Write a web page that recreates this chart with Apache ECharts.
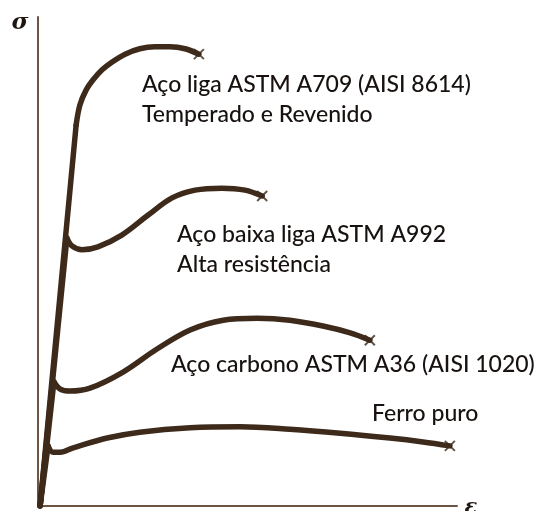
<!DOCTYPE html>
<html><head><meta charset="utf-8">
<script src="https://cdn.jsdelivr.net/npm/echarts@6/dist/echarts.min.js"></script>
<style>html,body{margin:0;padding:0;background:#fff}#c{width:535px;height:511px}</style>
</head><body><div id="c"></div>
<script>
// strain (ε, 0-100) vs stress (σ, 0-100), arbitrary units
const a709Elastic = [[0.5,0],[9.1,77.9]];
const a709Plastic = [[9.1,77.9],[10.0,82.0],[11.5,85.1],[13.1,87.1],[15.3,89.2],[17.7,90.8],[20.8,92.4],[24.3,93.5],[27.9,93.9],[31.5,93.9],[35.1,93.5],[38.4,92.4]];
const a992Elastic = [[0.5,0],[6.9,54.8]];
const a992Plastic = [[6.9,54.8],[8.1,53.2],[10.5,52.4],[14.3,53.0],[20.0,55.4],[26.3,59.5],[32.0,63.0],[37.5,64.6],[43.9,65.0],[49.4,64.6],[53.5,63.4]];
const a36Elastic = [[0.5,0],[3.8,25.4]];
const a36Plastic = [[3.8,25.4],[5.3,23.9],[7.6,23.5],[12.4,24.1],[20.3,27.4],[28.4,32.1],[36.3,36.0],[44.2,38.0],[52.3,38.4],[60.1,38.0],[68.0,36.8],[74.5,35.4],[79.2,33.9]];
const ferroElastic = [[0.5,0],[2.4,12.3]];
const ferroPlastic = [[2.4,12.3],[3.6,11.0],[5.3,11.0],[8.4,11.9],[16.5,13.9],[24.3,15.1],[36.3,16.0],[48.2,16.2],[60.1,15.7],[72.1,14.9],[84.0,13.9],[91.9,13.1],[98.3,12.3]];
const fractures = [a709Plastic, a992Plastic, a36Plastic, ferroPlastic].map(s => s[s.length-1]);
const labels = [
  {text:'Aço liga ASTM A709 (AISI 8614)', x:142, y:85},
  {text:'Temperado e Revenido', x:142, y:115},
  {text:'Aço baixa liga ASTM A992', x:177, y:235},
  {text:'Alta resistência', x:177, y:265},
  {text:'Aço carbono ASTM A36 (AISI 1020)', x:171, y:365},
  {text:'Ferro puro', x:372, y:414}
];

const curveColor = '#3d2a1b';
const axisColor = '#6e5443';
function line(data, smooth){
  return {type:'line', data, smooth: smooth ? 0.35 : false, showSymbol:false, silent:true,
    lineStyle:{color:curveColor, width:5.5, cap:'round', join:'round'}, z:3};
}
const chart = echarts.init(document.getElementById('c'), null, {renderer:'canvas'});
chart.setOption({
  animation:false,
  backgroundColor:'#fff',
  grid:{left:38, top:17, width:419, height:489},
  xAxis:{type:'value', min:0, max:100, axisLine:{show:true, lineStyle:{color:axisColor, width:2}}, axisTick:{show:false}, axisLabel:{show:false}, splitLine:{show:false}},
  yAxis:{type:'value', min:0, max:100, axisLine:{show:true, lineStyle:{color:axisColor, width:2}}, axisTick:{show:false}, axisLabel:{show:false}, splitLine:{show:false}},
  series:[
    line(a709Elastic,false), line(a709Plastic,true),
    line(a992Elastic,false), line(a992Plastic,true),
    line(a36Elastic,false), line(a36Plastic,true),
    line(ferroElastic,false), line(ferroPlastic,true),
    {type:'scatter', data:fractures, symbol:'path://M0,0L10,10M10,0L0,10', symbolSize:10, silent:true, z:4,
     itemStyle:{color:'rgba(0,0,0,0)', borderColor:curveColor, borderWidth:2}}
  ],
  graphic: labels.map(l => ({type:'text', x:l.x, y:l.y, style:{text:l.text, font:'500 23px Lato', fill:'#17120f', align:'left', verticalAlign:'middle'}}))
    .concat([
      {type:'text', x:20, y:23, style:{text:'σ', font:'italic bold 23px "DejaVu Serif"', fill:'#1e1510', align:'center', verticalAlign:'middle'}},
      {type:'text', x:471, y:508, style:{text:'ε', font:'italic bold 21px "DejaVu Serif"', fill:'#1e1510', align:'center', verticalAlign:'middle'}}
    ])
});
</script></body></html>
